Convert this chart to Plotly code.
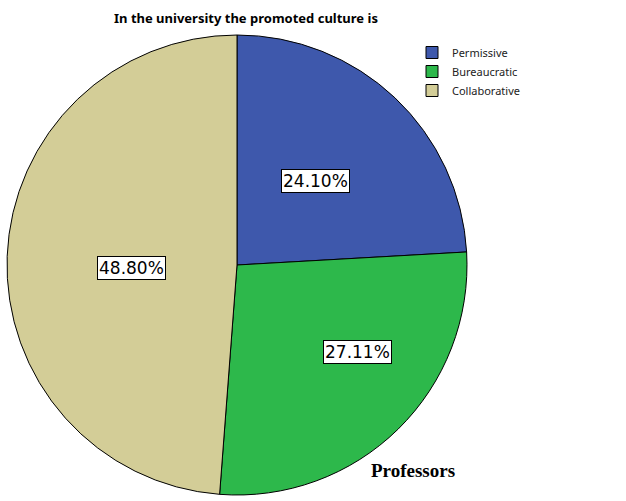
import math
import plotly.graph_objects as go

categories = ["Permissive", "Bureaucratic", "Collaborative"]
percentages = [24.10, 27.11, 48.80]
label_texts = ["24.10%", "27.11%", "48.80%"]
title_text = "In the university the promoted culture is"
panel_text = "Professors"

colors = ["#3E58AC", "#2DB84B", "#D3CD97"]
label_radius_factor = [0.50, 0.645, 0.457]
label_angle_offset_deg = [0.0, -9.7, -3.6]

W, H = 626, 501
cx, cy, R = 237, 265, 230

fig = go.Figure(go.Pie(
    labels=categories,
    values=percentages,
    sort=False,
    direction="clockwise",
    rotation=0,
    marker=dict(colors=colors, line=dict(color="black", width=1)),
    textinfo="none",
    hoverinfo="label+percent",
    domain=dict(x=[(cx - R) / W, (cx + R) / W], y=[1 - (cy + R) / H, 1 - (cy - R) / H]),
))

total = sum(percentages)
cum = 0
annotations = []
for txt, v, f, off in zip(label_texts, percentages, label_radius_factor, label_angle_offset_deg):
    mid = (cum + v / 2) / total * 2 * math.pi + math.radians(off)
    cum += v
    px = cx + R * f * math.sin(mid)
    py = cy - R * f * math.cos(mid)
    annotations.append(dict(
        x=px / W, y=1 - py / H, xref="paper", yref="paper",
        text=txt, showarrow=False,
        font=dict(family="DejaVu Sans", size=17, color="black"),
        bgcolor="white", bordercolor="black", borderwidth=1, borderpad=1,
        xanchor="center", yanchor="middle",
    ))

annotations.append(dict(
    x=246 / W, y=1 - 18 / H, xref="paper", yref="paper",
    text="<b>" + title_text + "</b>", showarrow=False,
    font=dict(family="Noto Sans", size=13, color="black"),
    xanchor="center", yanchor="middle",
))
annotations.append(dict(
    x=413 / W, y=1 - 470 / H, xref="paper", yref="paper",
    text="<b>" + panel_text + "</b>", showarrow=False,
    font=dict(family="Liberation Serif", size=19, color="black"),
    xanchor="center", yanchor="middle",
))

fig.update_layout(
    width=W, height=H,
    margin=dict(l=0, r=0, t=0, b=0),
    paper_bgcolor="white", plot_bgcolor="white",
    showlegend=True,
    legend=dict(
        x=412 / W, y=1 - 38 / H, xanchor="left", yanchor="top",
        font=dict(family="Noto Sans", size=11, color="#222222"),
        bgcolor="rgba(0,0,0,0)", tracegroupgap=0,
    ),
    annotations=annotations,
)

fig.write_html(
    "out.html",
    config={"displayModeBar": False},
    post_script="document.body.style.margin='0';document.body.style.padding='0';",
)
